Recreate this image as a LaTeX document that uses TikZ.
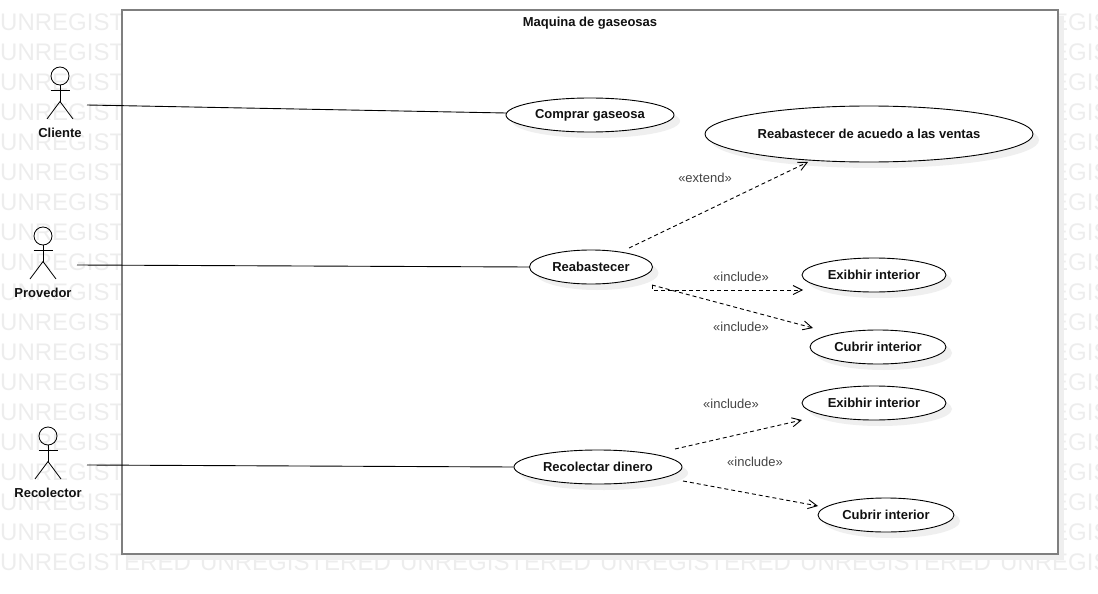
\documentclass[tikz,border=0pt]{standalone}
\usepackage{fontspec}
\setmainfont{Liberation Sans}
\usetikzlibrary{shapes.geometric,arrows.meta}
\definecolor{wm}{HTML}{EDEDED}
\definecolor{shadowc}{HTML}{EFEFEF}
\definecolor{framec}{HTML}{7F7F7F}
\definecolor{labelc}{HTML}{444444}
\definecolor{inkc}{HTML}{111111}
\tikzset{
  x=1pt,y=-1pt,
  wmark/.style={text=wm,font=\fontsize{24}{26}\selectfont,anchor=west,inner sep=0pt},
  usecase/.style={ellipse,draw=black,fill=white,line width=0.9pt,inner sep=0pt,text=inkc,font=\fontsize{13}{15}\selectfont\bfseries},
  casebg/.style={fill=shadowc,draw=none},
  actorline/.style={draw=black,line width=0.8pt},
  actorlabel/.style={text=inkc,font=\fontsize{13}{15}\selectfont\bfseries,inner sep=0pt},
  assoc/.style={draw=black,line width=0.9pt},
  dep/.style={draw=black,line width=0.9pt,dash pattern=on 4pt off 3pt,-{Straight Barb[length=9pt,width=9pt,line width=0.9pt]}},
  deplabel/.style={text=labelc,font=\fontsize{13}{15}\selectfont,inner sep=0pt},
}
\newcommand{\stickman}[2]{%
  \draw[actorline] (#1,#2) circle (9);
  \draw[actorline] (#1,#2+9) -- (#1,#2+25.5);
  \draw[actorline] (#1-9.5,#2+14.5) -- (#1+9.5,#2+14.5);
  \draw[actorline] (#1-13,#2+43) -- (#1,#2+25.5) -- (#1+13,#2+43);
}
\newcommand{\usecasenode}[6]{% name, cx, cy, w, h, text
  \fill[casebg] (#2+6,#3+6) ellipse ({#4/2} and {#5/2});
  \node[usecase,minimum width=#4,minimum height=#5] (#1) at (#2,#3) {\raisebox{-0.8pt}{#6}};
}
\begin{document}
\begin{tikzpicture}
\useasboundingbox (0,0) rectangle (1098,594);
% watermark
\begin{scope}
\clip (0,0) rectangle (1098,594);
\foreach \r in {0,...,18}{
  \foreach \c in {0,...,5}{
    \node[wmark] (wm-\r-\c) at ({200*\c},{22+30*\r}) {UNREGISTERED};
  }
}
\end{scope}
% frame
\fill[shadowc] (128,16) rectangle (1064,560);
\node[draw=framec,fill=white,line width=2pt,minimum width=936,minimum height=544,inner sep=0pt] (frame) at (590,282) {};
\node[inner sep=0pt,text=inkc,font=\fontsize{13}{15}\selectfont\bfseries] (title) at (590,23.5) {Maquina de gaseosas};
% actors
\stickman{60}{76}
\node[actorlabel] (cliente) at (60,133) {Cliente};
\stickman{43}{236}
\node[actorlabel] (provedor) at (43,293) {Provedor};
\stickman{48}{436}
\node[actorlabel] (recolector) at (48,493) {Recolector};
\coordinate (clientePort) at (87,105);
\coordinate (provedorPort) at (77,265);
\coordinate (recolectorPort) at (87,465);
% use cases
\usecasenode{comprar}{590}{115}{168}{34}{Comprar gaseosa}
\usecasenode{ventas}{869}{134}{328}{56}{Reabastecer de acuedo a las ventas}
\usecasenode{reab}{591}{267}{123}{34}{Reabastecer}
\usecasenode{exi}{874}{275}{144}{34}{Exibhir interior}
\usecasenode{cub}{878}{347}{136}{34}{Cubrir interior}
\usecasenode{exib}{874}{403}{144}{34}{Exibhir interior}
\usecasenode{reco}{598}{467}{168}{34}{Recolectar dinero}
\usecasenode{cubb}{886}{515}{136}{34}{Cubrir interior}
% associations
\coordinate (comprarIn) at (506,113);
\draw[assoc] (clientePort) -- (comprarIn);
\draw[assoc] (provedorPort) -- (reab.west);
\draw[assoc] (recolectorPort) -- (reco.west);
% dependencies
\coordinate (reabExt) at (629,248);
\coordinate (ventasIn) at (808,162);
\coordinate (reabInc) at (652,285);
\coordinate (reabBend) at (652,290);
\coordinate (exiIn) at (803,290);
\coordinate (cubIn) at (813,328);
\coordinate (recoUp) at (675,449);
\coordinate (exibIn) at (802,420);
\coordinate (recoDown) at (683,481);
\coordinate (cubbIn) at (818,506);
\draw[dep] (reabExt) -- (ventasIn);
\draw[dep] (reabInc) -- (reabBend) -- (exiIn);
\draw[dep] (reabInc) -- (cubIn);
\draw[dep] (recoUp) -- (exibIn);
\draw[dep] (recoDown) -- (cubbIn);
% dependency labels
\node[deplabel] (l1) at (705,177.5) {«extend»};
\node[deplabel] (l2) at (741,276.5) {«include»};
\node[deplabel] (l3) at (741,326.5) {«include»};
\node[deplabel] (l4) at (731,403.5) {«include»};
\node[deplabel] (l5) at (755,461.5) {«include»};
\end{tikzpicture}
\end{document}
